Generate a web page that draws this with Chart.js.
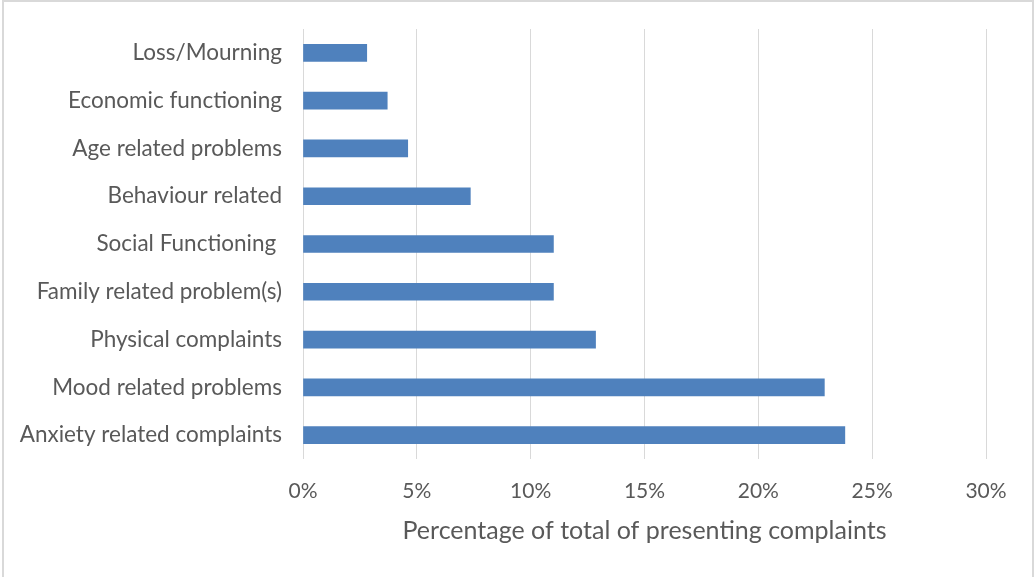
<!DOCTYPE html>
<html>
<head>
<meta charset="utf-8">
<script src="https://cdn.jsdelivr.net/npm/chart.js@4/dist/chart.umd.min.js"></script>
<style>
  html, body { margin: 0; padding: 0; background: #ffffff; }
  #wrap { position: relative; width: 1036px; height: 577px; }
  canvas { display: block; }
</style>
</head>
<body>
<div id="wrap"><canvas id="c" width="1036" height="577"></canvas></div>
<script>
const categories = [
  'Loss/Mourning',
  'Economic functioning',
  'Age related problems',
  'Behaviour related',
  'Social Functioning ',
  'Family related problem(s)',
  'Physical complaints',
  'Mood related problems',
  'Anxiety related complaints'
];
const percentages = [2.8, 3.7, 4.6, 7.35, 11.0, 11.0, 12.85, 22.9, 23.8];
const xTickValues = [0, 5, 10, 15, 20, 25, 30];
const xAxisTitle = 'Percentage of total of presenting complaints';

const FONT = 'Lato';
const TEXT = '#595959';

const borderPlugin = {
  id: 'outerBorder',
  beforeDraw(chart) {
    const ctx = chart.ctx;
    ctx.save();
    ctx.fillStyle = '#ffffff';
    ctx.fillRect(0, 0, chart.width, chart.height);
    ctx.strokeStyle = '#d9d9d9';
    ctx.lineWidth = 2;
    ctx.strokeRect(3, 1, 1030, 580);
    ctx.restore();
  }
};

new Chart(document.getElementById('c'), {
  type: 'bar',
  data: {
    labels: categories,
    datasets: [{
      data: percentages,
      backgroundColor: '#4f81bd',
      borderWidth: 0,
      barThickness: 17
    }]
  },
  plugins: [borderPlugin],
  options: {
    indexAxis: 'y',
    responsive: false,
    animation: false,
    layout: { padding: { top: 29, right: 50, bottom: 31, left: 0 } },
    plugins: { legend: { display: false }, tooltip: { enabled: false } },
    scales: {
      y: {
        grid: { display: false, drawTicks: false },
        border: { display: false },
        ticks: { color: TEXT, font: { family: FONT, size: 22.5 }, padding: 21 },
        afterFit(scale) {
          scale.width = 303;
          scale.paddingTop = 0;
          scale.paddingBottom = 0;
        }
      },
      x: {
        min: 0,
        max: 30,
        afterBuildTicks(scale) { scale.ticks = xTickValues.map(v => ({ value: v })); },
        afterFit(scale) { scale.height = 87; },
        grid: { color: '#d9d9d9', lineWidth: 1, drawTicks: false },
        border: { display: false },
        ticks: {
          color: TEXT,
          font: { family: FONT, size: 21, lineHeight: 1.2 },
          padding: 20,
          callback: v => v + '%'
        },
        title: {
          display: true,
          text: xAxisTitle,
          color: TEXT,
          font: { family: FONT, size: 25, lineHeight: 1.2 },
          padding: { top: 0, bottom: 0 }
        }
      }
    }
  }
});
</script>
</body>
</html>
